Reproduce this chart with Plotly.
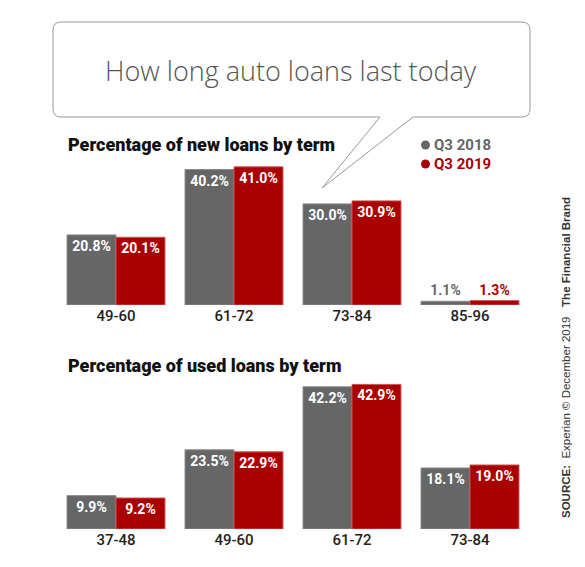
import plotly.graph_objects as go
from plotly.subplots import make_subplots

# data
new_terms = ["49-60", "61-72", "73-84", "85-96"]
new_2018 = [20.8, 40.2, 30.0, 1.1]
new_2019 = [20.1, 41.0, 30.9, 1.3]

used_terms = ["37-48", "49-60", "61-72", "73-84"]
used_2018 = [9.9, 23.5, 42.2, 18.1]
used_2019 = [9.2, 22.9, 42.9, 19.0]

series_names = ["Q3 2018", "Q3 2019"]

GRAY = "#666666"
RED = "#aa0000"
W, H = 585, 567


def px(x):
    return x / W


def py(y):
    return 1 - y / H


def labels(vals):
    return [f"{v:.1f}%" for v in vals]


fig = make_subplots(rows=2, cols=1)

for row, (terms, a, b) in enumerate([(new_terms, new_2018, new_2019),
                                     (used_terms, used_2018, used_2019)], start=1):
    for vals, color, edge, name in [(a, GRAY, "#8a8a8a", series_names[0]),
                                    (b, RED, "#cc5555", series_names[1])]:
        pos = ["inside" if v > 5 else "outside" for v in vals]
        tcol = ["white" if v > 5 else color for v in vals]
        fig.add_trace(go.Bar(
            x=terms, y=vals, name=name,
            marker=dict(color=color, line=dict(color=edge, width=1)),
            text=labels(vals),
            textposition=pos,
            insidetextanchor="end",
            textangle=0,
            textfont=dict(family="Roboto", size=14, color=tcol, weight=700),
            cliponaxis=False,
            showlegend=False,
        ), row=row, col=1)

fig.update_layout(
    width=W, height=H,
    margin=dict(l=0, r=0, t=0, b=0),
    paper_bgcolor="white", plot_bgcolor="white",
    barmode="group", bargap=0.17, bargroupgap=0,
    font=dict(family="Roboto", color="#222222"),
)

fig.update_xaxes(showgrid=False, showline=False, zeroline=False,
                 tickfont=dict(family="Roboto", size=15, color="#222222", weight=500),
                 domain=[px(57), px(529)])
fig.update_yaxes(showgrid=False, showline=False, zeroline=False,
                 showticklabels=False, range=[0, 46])
fig.update_layout(yaxis=dict(domain=[py(305), py(150)]),
                  yaxis2=dict(domain=[py(529), py(374)]))

# speech bubble
r = 8
x0, x1, y0, y1 = 53, 530, 22, 117
pts = [
    f"M{px(x0 + r)},{py(y0)}",
    f"L{px(x1 - r)},{py(y0)}",
    f"Q{px(x1)},{py(y0)} {px(x1)},{py(y0 + r)}",
    f"L{px(x1)},{py(y1 - r)}",
    f"Q{px(x1)},{py(y1)} {px(x1 - r)},{py(y1)}",
    f"L{px(413)},{py(y1)}",
    f"L{px(322)},{py(188)}",
    f"L{px(380)},{py(y1)}",
    f"L{px(x0 + r)},{py(y1)}",
    f"Q{px(x0)},{py(y1)} {px(x0)},{py(y1 - r)}",
    f"L{px(x0)},{py(y0 + r)}",
    f"Q{px(x0)},{py(y0)} {px(x0 + r)},{py(y0)}",
    "Z",
]
fig.add_shape(type="path", xref="paper", yref="paper", path=" ".join(pts),
              line=dict(color="#999999", width=1), fillcolor="white", layer="below")

# legend dots
for yc, col in [(145, GRAY), (164, RED)]:
    fig.add_shape(type="circle", xref="paper", yref="paper",
                  x0=px(421), x1=px(430), y0=py(yc + 4.5), y1=py(yc - 4.5),
                  line=dict(width=0), fillcolor=col)

annos = [
    dict(x=px(291), y=py(70), text="How long auto loans last today",
         font=dict(family="Open Sans", size=27, color="#555555", weight=300),
         xanchor="center", yanchor="middle"),
    dict(x=px(66), y=py(145), text="Percentage of new loans by term",
         font=dict(family="Roboto", size=18, color="#111111", weight=900),
         xanchor="left", yanchor="middle"),
    dict(x=px(66), y=py(365), text="Percentage of used loans by term",
         font=dict(family="Roboto", size=18, color="#111111", weight=900),
         xanchor="left", yanchor="middle"),
    dict(x=px(432), y=py(145), text="<b>" + series_names[0] + "</b>",
         font=dict(family="Roboto", size=15, color=GRAY),
         xanchor="left", yanchor="middle"),
    dict(x=px(432), y=py(164), text="<b>" + series_names[1] + "</b>",
         font=dict(family="Roboto", size=15, color=RED),
         xanchor="left", yanchor="middle"),
    dict(x=px(566), y=py(358), textangle=-90,
         text="<b>SOURCE:</b>\u00a0\u00a0Experian © December 2019\u00a0\u00a0\u00a0<b>The Financial Brand</b>",
         font=dict(family="Liberation Sans", size=11.5, color="#333333"),
         xanchor="center", yanchor="middle"),
]
for a in annos:
    fig.add_annotation(xref="paper", yref="paper", showarrow=False, **a)

fig.write_html("out.html", config={"displayModeBar": False},
               post_script="document.body.style.margin='0';")
